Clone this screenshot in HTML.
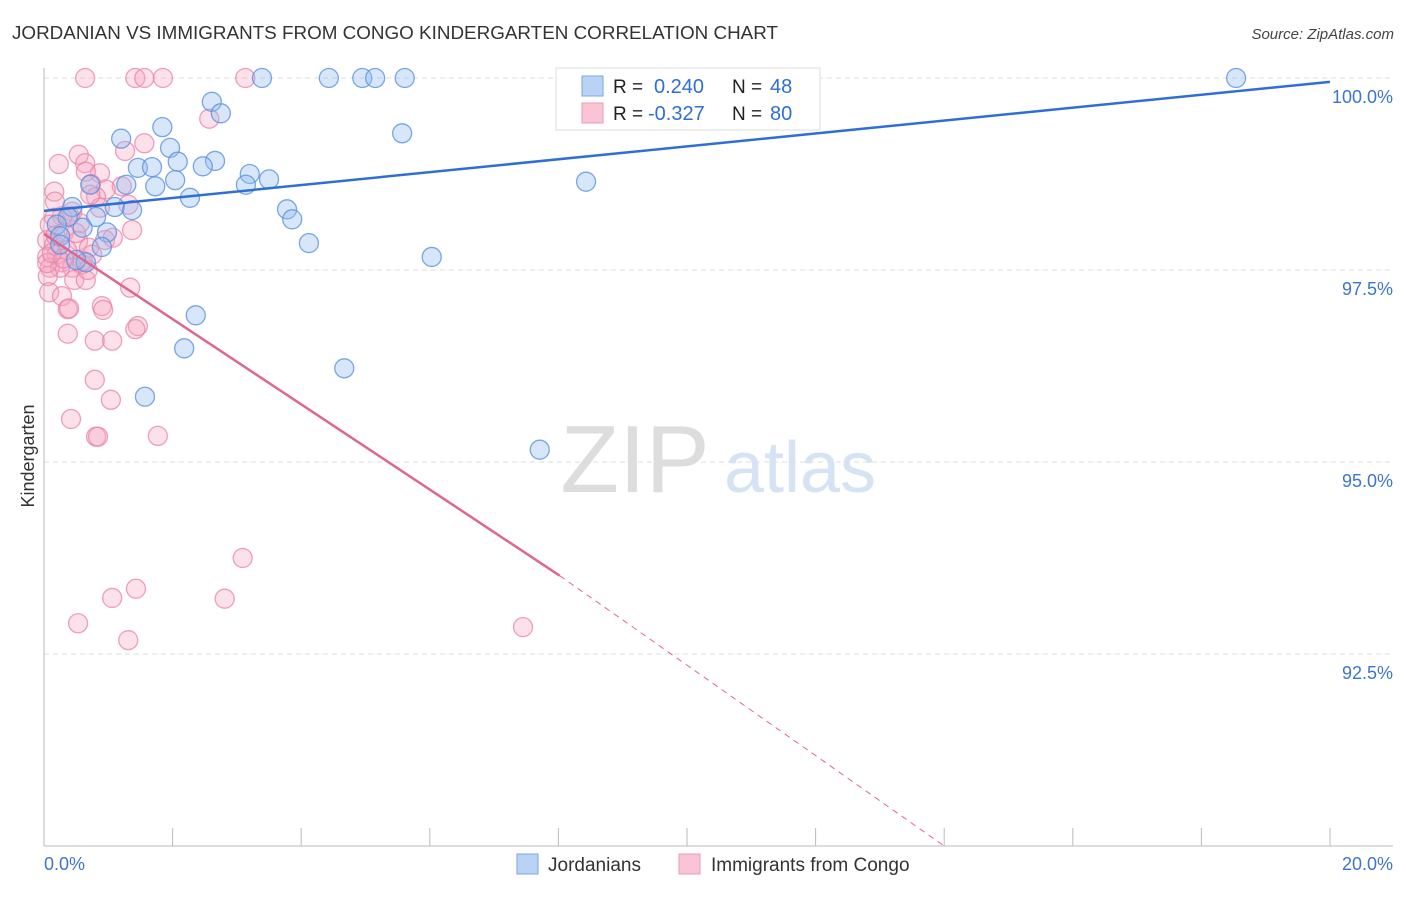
<!DOCTYPE html>
<html><head><meta charset="utf-8"><style>
body{margin:0;background:#fff;font-family:"Liberation Sans",sans-serif}
svg text{font-family:"Liberation Sans",sans-serif}
</style></head><body>
<svg width="1406" height="892" xmlns="http://www.w3.org/2000/svg" id="chart">
<text x="12" y="39" font-size="18" fill="#333" textLength="766" lengthAdjust="spacingAndGlyphs">JORDANIAN VS IMMIGRANTS FROM CONGO KINDERGARTEN CORRELATION CHART</text>
<text x="1394" y="39" font-size="15" fill="#444" text-anchor="end" font-style="italic">Source: ZipAtlas.com</text>
<g id="grid"></g>
<g>
<text x="635" y="492" font-size="96" fill="#ddd" text-anchor="middle" font-family="Liberation Serif,serif">ZIP</text>
<text x="800" y="492" font-size="72" fill="#d5e3f5" text-anchor="middle">atlas</text>
</g>
<g id="axes"></g>
<g id="pts"></g>
<g id="trends"></g>
<text transform="translate(34,456) rotate(-90)" font-size="18" fill="#333" text-anchor="middle">Kindergarten</text>
<g>
<rect x="556" y="68" width="264" height="62" fill="#fff" stroke="#ddd"/>
<rect x="582" y="76" width="21" height="20" fill="#b9d3f5" stroke="#7ba6e6"/>
<rect x="582" y="103" width="21" height="20" fill="#f9c5d5" stroke="#eb9ab5"/>
<text x="613" y="93" font-size="19" fill="#222">R = </text><text x="654" y="93" font-size="20" fill="#2e6fd6">0.240</text>
<text x="732" y="93" font-size="19" fill="#222">N = </text><text x="770" y="93" font-size="20" fill="#2e6fd6">48</text>
<text x="613" y="120" font-size="19" fill="#222">R = </text><text x="648" y="120" font-size="20" fill="#2e6fd6">-0.327</text>
<text x="732" y="120" font-size="19" fill="#222">N = </text><text x="770" y="120" font-size="20" fill="#2e6fd6">80</text>
</g>
<g>
<rect x="517" y="854" width="21" height="20" fill="#b9d3f5" stroke="#7ba6e6"/>
<text x="548" y="871" font-size="19" fill="#333">Jordanians</text>
<rect x="679" y="854" width="21" height="20" fill="#f9c5d5" stroke="#eb9ab5"/>
<text x="711" y="871" font-size="19" fill="#333">Immigrants from Congo</text>
</g>
</svg>
<script>
const blueX=[3.39,4.43,4.95,5.15,5.61,18.54,2.61,2.75,1.84,5.57,1.20,1.96,2.08,1.46,1.68,2.66,2.47,3.20,3.50,2.04,1.28,1.73,3.14,8.43,0.72,2.27,0.44,1.10,1.37,3.78,3.86,0.81,0.37,0.20,0.98,0.25,0.90,4.12,6.03,0.65,0.50,2.36,2.18,4.67,1.57,7.71,0.25,0.60];
const blueY=[100,100,100,100,100,100,99.69,99.54,99.36,99.28,99.21,99.09,98.91,98.83,98.84,98.92,98.85,98.75,98.68,98.67,98.61,98.59,98.61,98.65,98.61,98.44,98.32,98.32,98.28,98.29,98.16,98.19,98.19,98.09,97.99,97.94,97.80,97.85,97.67,97.60,97.63,96.91,96.48,96.22,95.85,95.16,97.83,98.05];
const pinkX=[0.64,1.42,1.56,1.85,3.13,2.57,1.56,1.26,0.23,0.54,0.64,0.87,0.65,0.73,1.21,0.96,0.16,0.81,0.17,1.31,0.44,0.28,0.87,1.37,0.16,0.56,0.95,0.31,0.53,0.05,0.16,0.70,0.36,0.20,0.05,0.28,0.59,0.09,0.44,0.25,0.06,0.47,0.65,0.08,0.28,1.34,0.90,0.92,0.37,0.39,1.46,1.42,0.37,0.79,1.06,0.79,1.04,0.42,0.81,0.84,1.77,3.09,1.43,1.06,2.81,0.53,1.31,7.45,0.05,0.09,0.68,0.72,0.50,1.07,0.30,0.12,0.60,0.40,0.18,0.75];
const pinkY=[100,100,100,100,100,99.47,99.15,99.05,98.88,99.00,98.89,98.76,98.78,98.62,98.59,98.55,98.52,98.45,98.39,98.35,98.26,98.20,98.31,98.02,98.18,98.11,97.89,97.99,97.88,97.89,97.83,97.79,97.76,97.70,97.67,97.60,97.57,97.53,97.53,97.53,97.42,97.37,97.37,97.21,97.16,97.27,97.03,96.98,96.99,97.00,96.77,96.73,96.67,96.58,96.58,96.07,95.81,95.56,95.33,95.33,95.34,93.75,93.35,93.23,93.22,92.90,92.68,92.85,97.59,98.09,97.50,98.48,97.98,97.92,97.65,97.72,97.62,98.20,97.95,97.70];
const yTicks=[100,97.5,95,92.5];
const yTickLabels=["100.0%","97.5%","95.0%","92.5%"];
const blueTrend=[[0,98.27],[20,99.95]];
const pinkTrend=[[0,97.97],[8.02,93.52],[14.0,90.0]];
const NS="http://www.w3.org/2000/svg";
const X0=44,X1=1330,Y0=78,YB=846;
const sx=v=>X0+(v/20)*(X1-X0);
const sy=v=>Y0+(100-v)/10*(YB-Y0);
function mk(tag,attrs,parent){const e=document.createElementNS(NS,tag);for(const k in attrs)e.setAttribute(k,attrs[k]);parent.appendChild(e);return e;}
const grid=document.getElementById('grid'),axes=document.getElementById('axes');
yTicks.forEach((t,i)=>{
 const l=mk('line',{x1:X0,x2:1393,y1:sy(t),y2:sy(t),stroke:'#ddd','stroke-dasharray':'5,4'},grid);
 
 
 const tx=mk('text',{x:1393,y:sy(t)+25,'font-size':18,fill:'#3d74d0','text-anchor':'end'},axes);
 tx.textContent=yTickLabels[i];
 
 
});
mk('line',{x1:X0,x2:X0,y1:68,y2:846,stroke:'#bbb'},axes);
mk('line',{x1:X0,x2:1393,y1:846,y2:846,stroke:'#bbb'},axes);
for(let i=0;i<=10;i++){const t=mk('line',{x1:sx(i*2),x2:sx(i*2),y1:828,y2:846,stroke:'#bbb'},axes);
 
 }
const xl0=mk('text',{x:44,y:870,'font-size':18,fill:'#3d74d0'},axes);xl0.textContent='0.0%';


const xl1=mk('text',{x:1393,y:870,'font-size':18,fill:'#3d74d0','text-anchor':'end'},axes);xl1.textContent='20.0%';


const pts=document.getElementById('pts');
pinkX.forEach((x,i)=>{const c=mk('circle',{cx:sx(x),cy:sy(pinkY[i]),r:9.5,fill:'rgba(245,165,192,0.33)',stroke:'rgba(232,130,165,0.75)','stroke-width':1.3},pts);
 
 });
blueX.forEach((x,i)=>{const c=mk('circle',{cx:sx(x),cy:sy(blueY[i]),r:9.5,fill:'rgba(150,190,240,0.38)',stroke:'rgba(90,145,225,0.8)','stroke-width':1.3},pts);
 
 });
const tr=document.getElementById('trends');
const bl=mk('line',{x1:sx(blueTrend[0][0]),y1:sy(blueTrend[0][1]),x2:sx(blueTrend[1][0]),y2:sy(blueTrend[1][1]),stroke:'#2e6fd6','stroke-width':2.5},tr);


const pl=mk('line',{x1:sx(pinkTrend[0][0]),y1:sy(pinkTrend[0][1]),x2:sx(pinkTrend[1][0]),y2:sy(pinkTrend[1][1]),stroke:'#e0668f','stroke-width':2.5},tr);


const pd=mk('line',{x1:sx(pinkTrend[1][0]),y1:sy(pinkTrend[1][1]),x2:sx(pinkTrend[2][0]),y2:sy(pinkTrend[2][1]),stroke:'#e0668f','stroke-width':1,'stroke-dasharray':'6,5'},tr);


</script>
</body></html>
